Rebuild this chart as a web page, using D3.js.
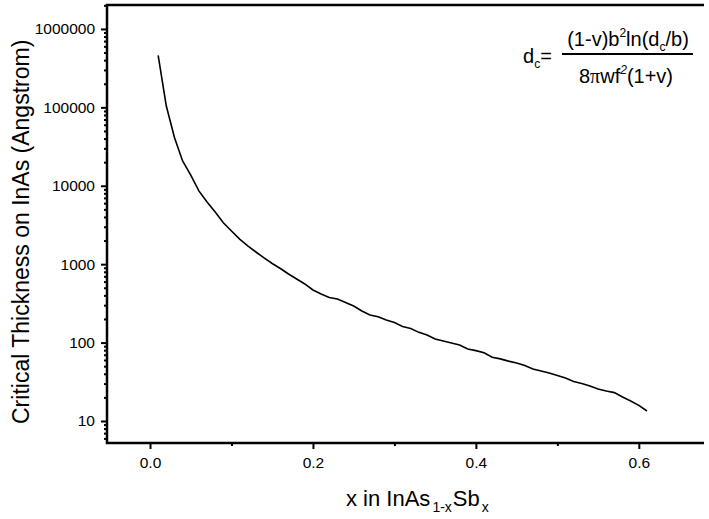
<!DOCTYPE html>
<html>
<head>
<meta charset="utf-8">
<script src="https://cdn.jsdelivr.net/npm/d3@7"></script>
<style>
  body { margin: 0; background: #fff; }
  text { font-family: Arial, "Liberation Sans", sans-serif; fill: #000; }
</style>
</head>
<body>
<div id="tu"></div>
<script>
// composition x (InAs1-xSbx)
var xs = [0.01,0.02,0.03,0.04,0.05,0.06,0.07,0.08,0.09,0.10,
          0.11,0.12,0.13,0.14,0.15,0.16,0.17,0.18,0.19,0.20,
          0.21,0.22,0.23,0.24,0.25,0.26,0.27,0.28,0.29,0.30,
          0.31,0.32,0.33,0.34,0.35,0.36,0.37,0.38,0.39,0.40,
          0.41,0.42,0.43,0.44,0.45,0.46,0.47,0.48,0.49,0.50,
          0.51,0.52,0.53,0.54,0.55,0.56,0.57,0.58,0.59,0.60,0.61];
// critical thickness (Angstrom)
var dc = [459000,104000,41300,20700,13700,8590,6210,4630,3380,2650,
          2090,1710,1430,1200,1020,881,750,648,559,469,
          417,376,360,325,293,253,225,214,194,180,
          160,151,135,125,111,105,99,93,83,79,
          74,65,62,58,55,51,46,43.5,41,38,
          35.3,31.9,30.1,27.9,25.6,24.1,23.0,20.2,18.0,15.8,13.4];
var xTicks = [0.0,0.2,0.4,0.6];
var xMinor = [0.1,0.3,0.5];
var yTicks = [10,100,1000,10000,100000,1000000];

var fullWidth = 709, fullHeight = 519;
var margin = {top:5, right:5, bottom:76, left:107};
var width = fullWidth - margin.left - margin.right;
var height = fullHeight - margin.top - margin.bottom;

var svg = d3.select("#tu").append("svg")
  .attr("width", fullWidth).attr("height", fullHeight);
var g = svg.append("g")
  .attr("transform", "translate(" + margin.left + "," + margin.top + ")");

var xScale = d3.scaleLinear().domain([-0.0528, 0.68]).range([0, width]);
var yScale = d3.scaleLog().domain([5.24, 2.02e6]).range([height, 0]);

// y minor ticks 2..9 per decade
var yMinor = [];
for (var e = 0; e <= 6; e++) {
  for (var m = 2; m <= 9; m++) {
    var v = m * Math.pow(10, e);
    if (v > 5.24 && v < 2.02e6) yMinor.push(v);
  }
}

var xAxis = d3.axisBottom(xScale).tickValues(xTicks).tickSize(6).tickPadding(8)
  .tickFormat(d3.format(".1f"));
var xAxisMinor = d3.axisBottom(xScale).tickValues(xMinor).tickSize(3).tickFormat("");
var yAxis = d3.axisLeft(yScale).tickValues(yTicks).tickSize(6).tickPadding(6)
  .tickFormat(d3.format("d"));
var yAxisMinor = d3.axisLeft(yScale).tickValues(yMinor).tickSize(3).tickFormat("");

function styleAxis(sel) {
  sel.select(".domain").remove();
  sel.selectAll("line").attr("stroke", "#000").attr("stroke-width", 2);
  sel.selectAll("text").style("font-size", "15.5px");
}

g.append("g").attr("transform", "translate(0," + height + ")").call(xAxis).call(styleAxis);
g.append("g").attr("transform", "translate(0," + height + ")").call(xAxisMinor).call(styleAxis);
g.append("g").call(yAxis).call(styleAxis);
g.append("g").call(yAxisMinor).call(styleAxis);

// frame: top, left, bottom (no right)
g.append("path")
  .attr("d", "M" + width + ",0H0V" + height + "H" + width)
  .attr("fill", "none").attr("stroke", "#000").attr("stroke-width", 2.5);

// curve
var line = d3.line()
  .x(function(d, i) { return xScale(xs[i]); })
  .y(function(d) { return yScale(d); });
g.append("path").datum(dc)
  .attr("d", line)
  .attr("fill", "none").attr("stroke", "#000").attr("stroke-width", 1.6);

// axis titles
svg.append("text")
  .attr("transform", "translate(29,424) rotate(-90)")
  .attr("text-anchor", "start")
  .style("font-size", "23px")
  .text("Critical Thickness on InAs (Angstrom)");

var xt = svg.append("text")
  .attr("x", 346).attr("y", 506)
  .attr("text-anchor", "start")
  .style("font-size", "22px");
xt.append("tspan").text("x in InAs");
xt.append("tspan").attr("dx", 2).attr("dy", 6).style("font-size", "14px").text("1-x");
xt.append("tspan").attr("dx", 1).attr("dy", -6).text("Sb");
xt.append("tspan").attr("dx", 2).attr("dy", 6).style("font-size", "14px").text("x");

// formula
var f = svg.append("g").style("font-size", "20px");
var lhs = f.append("text").attr("x", 523).attr("y", 63);
lhs.append("tspan").text("d");
lhs.append("tspan").attr("dy", 5).style("font-size", "12px").text("c");
lhs.append("tspan").attr("dy", -5).text("=");

f.append("line").attr("x1", 562).attr("x2", 693).attr("y1", 54).attr("y2", 54)
  .attr("stroke", "#000").attr("stroke-width", 1.8);

var num = f.append("text").attr("x", 628).attr("y", 46).attr("text-anchor", "middle");
num.append("tspan").text("(1-v)b");
num.append("tspan").attr("dy", -9).style("font-size", "12px").text("2");
num.append("tspan").attr("dy", 9).text("ln(d");
num.append("tspan").attr("dy", 5).style("font-size", "12px").text("c");
num.append("tspan").attr("dy", -5).text("/b)");

var den = f.append("text").attr("x", 626).attr("y", 83).attr("text-anchor", "middle");
den.append("tspan").text("8");
den.append("tspan").style("font-family", "serif").text("\u03c0");
den.append("tspan").text("wf");
den.append("tspan").attr("dy", -9).style("font-size", "12px").style("font-style", "italic").text("2");
den.append("tspan").attr("dy", 9).text("(1+v)");
</script>
</body>
</html>
